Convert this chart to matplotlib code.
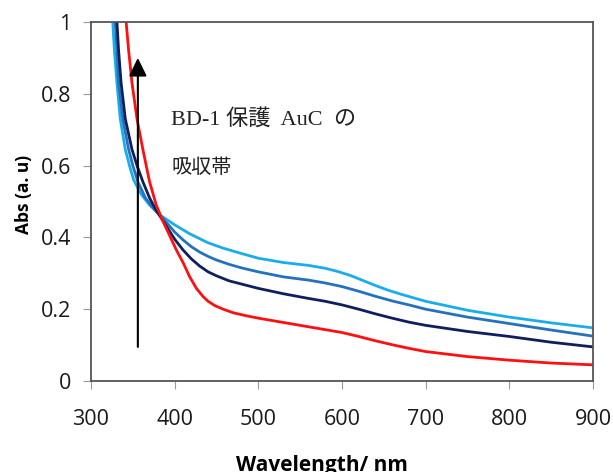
import matplotlib
matplotlib.use("Agg")
import matplotlib.pyplot as plt

wl_light = [326, 328, 331, 335, 341, 346, 351, 360, 370, 384, 400, 418, 440, 458, 480, 500,
            530, 560, 580, 595, 610, 625, 640, 655, 670, 700, 750, 800, 850, 900]
abs_light = [1.0, 0.92, 0.83, 0.73, 0.645, 0.60, 0.56, 0.52, 0.49, 0.46, 0.435, 0.41, 0.385, 0.37,
             0.355, 0.342, 0.33, 0.322, 0.314, 0.305, 0.294, 0.28, 0.266, 0.253, 0.242, 0.222,
             0.197, 0.178, 0.162, 0.148]

wl_mid = [329, 331, 333, 338, 345, 350, 356, 365, 375, 385, 400, 410, 420, 430, 440, 450, 465,
          480, 500, 530, 560, 580, 600, 620, 640, 660, 680, 700, 750, 800, 850, 900]
abs_mid = [1.0, 0.92, 0.83, 0.73, 0.645, 0.60, 0.555, 0.51, 0.48, 0.455, 0.415, 0.393, 0.374,
           0.359, 0.347, 0.337, 0.325, 0.315, 0.304, 0.29, 0.281, 0.273, 0.263, 0.25, 0.236,
           0.223, 0.212, 0.2, 0.178, 0.16, 0.142, 0.125]

wl_navy = [331, 333, 336, 341, 349, 355, 362, 370, 378, 385, 400, 410, 420, 430, 440, 450, 465,
           480, 500, 530, 560, 580, 600, 620, 640, 660, 680, 700, 750, 800, 850, 900]
abs_navy = [1.0, 0.92, 0.83, 0.73, 0.645, 0.60, 0.555, 0.51, 0.475, 0.45, 0.395, 0.365, 0.34,
            0.32, 0.304, 0.293, 0.279, 0.27, 0.258, 0.243, 0.23, 0.222, 0.212, 0.2, 0.187,
            0.175, 0.164, 0.155, 0.138, 0.124, 0.108, 0.095]

wl_red = [342, 345, 349, 355, 362, 370, 378, 385, 393, 402, 410, 418, 426, 434, 440, 448, 458,
          470, 485, 500, 530, 560, 580, 600, 620, 640, 660, 680, 700, 750, 800, 850, 900]
abs_red = [1.0, 0.92, 0.83, 0.73, 0.645, 0.555, 0.49, 0.45, 0.41, 0.365, 0.33, 0.29, 0.258,
           0.235, 0.222, 0.21, 0.2, 0.19, 0.182, 0.175, 0.163, 0.151, 0.143, 0.135, 0.124,
           0.112, 0.101, 0.091, 0.082, 0.068, 0.058, 0.05, 0.045]

x_ticks = [300, 400, 500, 600, 700, 800, 900]
y_ticks = [0, 0.2, 0.4, 0.6, 0.8, 1]
y_ticklabels = ["0", "0.2", "0.4", "0.6", "0.8", "1"]

fig = plt.figure(figsize=(6.13, 4.72), dpi=100)
ax = fig.add_axes([91 / 613, 1 - 381 / 472, 502 / 613, 359 / 472])

ax.plot(wl_light, abs_light, color="#19AEEB", lw=2.0, solid_capstyle="butt")
ax.plot(wl_mid, abs_mid, color="#2472BD", lw=2.0, solid_capstyle="butt")
ax.plot(wl_navy, abs_navy, color="#0F1F5E", lw=2.0, solid_capstyle="butt")
ax.plot(wl_red, abs_red, color="#FF1010", lw=2.0, solid_capstyle="butt")

ax.set_xlim(300, 900)
ax.set_ylim(0, 1)
ax.set_xticks(x_ticks)
ax.set_yticks(y_ticks)
ax.set_yticklabels(y_ticklabels)

for s in ax.spines.values():
    s.set_color("#555555")
    s.set_linewidth(1.3)

ax.tick_params(axis="both", direction="out", length=6, width=0.8, color="#999999",
               labelsize=15.5, labelcolor="#1a1a1a")
ax.tick_params(axis="x", pad=14)
ax.tick_params(axis="y", pad=8)
for lab in ax.get_xticklabels() + ax.get_yticklabels():
    lab.set_family("Open Sans")

ax.set_xlabel("Wavelength/ nm", family="Open Sans", fontweight="bold", fontsize=15)
ax.xaxis.set_label_coords(0.46, -0.205)
ax.set_ylabel("Abs (a. u)", family="Open Sans", fontweight="bold", fontsize=12.5)
ax.yaxis.set_label_coords(-0.115, 0.52)

ax.annotate("", xy=(356, 0.9), xytext=(356, 0.095),
            arrowprops=dict(arrowstyle="-|>,head_length=0.55,head_width=0.27",
                            mutation_scale=20, lw=1.5, color="black",
                            shrinkA=0, shrinkB=0))

jp_font = ["Liberation Serif", "Noto Sans CJK JP"]
ax.text(396, 0.73, "BD-1 保護  AuC  の", family=jp_font, fontsize=16, va="center", ha="left",
        color="#222222")
ax.text(396, 0.593, "吸収帯", family=jp_font, fontsize=14.5, va="center", ha="left",
        color="#222222")

fig.savefig("out.png", dpi=100)
